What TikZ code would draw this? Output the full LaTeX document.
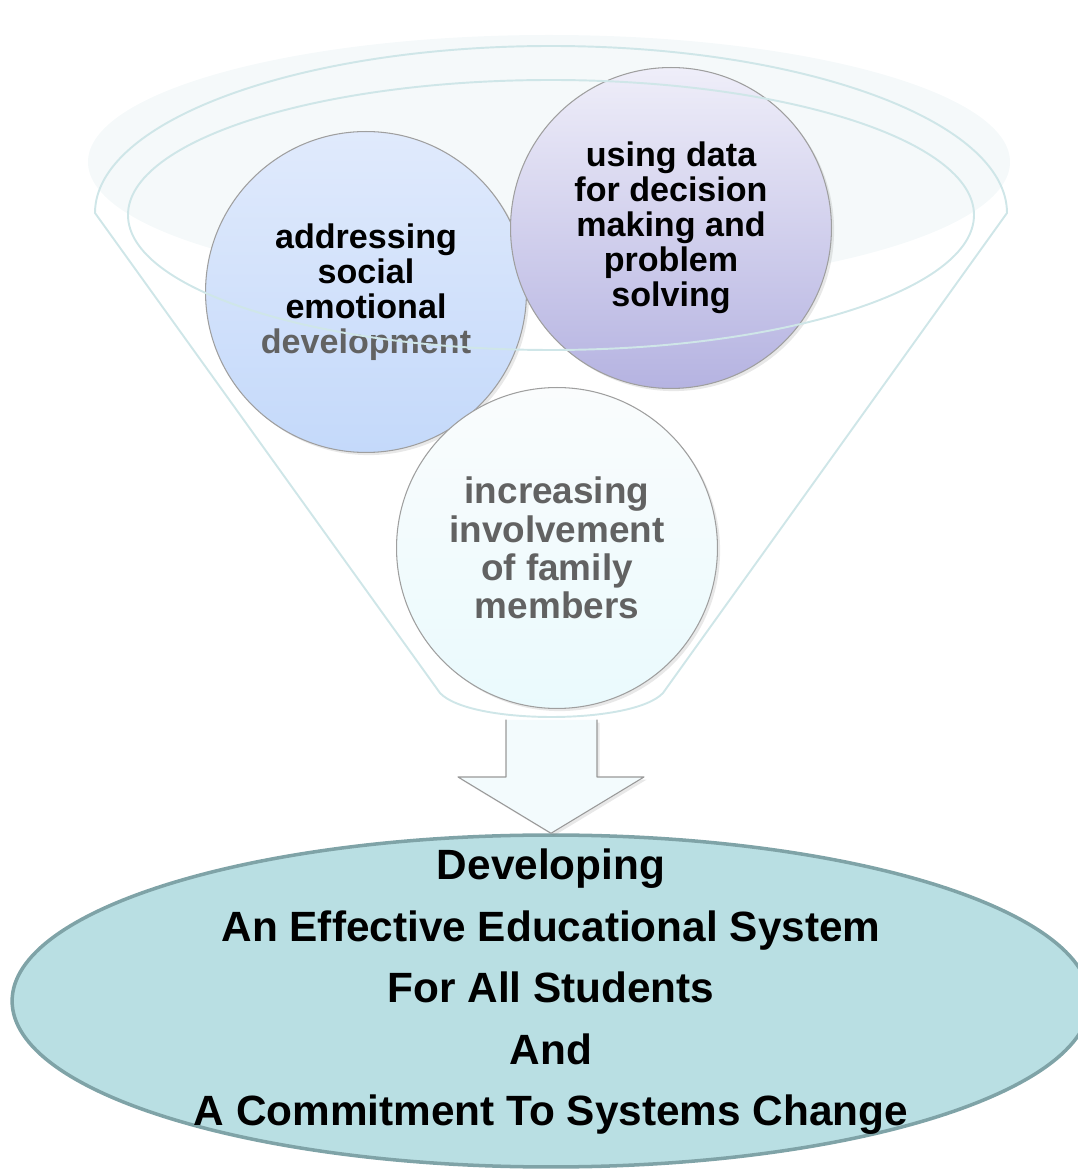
\documentclass[tikz,border=0pt]{standalone}
\usepackage{fontspec}
\setmainfont{Liberation Sans}
\usetikzlibrary{shapes.geometric,shadows,calc}
\definecolor{funnelline}{HTML}{CFE6E8}
\definecolor{funnelglow}{HTML}{F5F9FA}
\definecolor{softgray}{HTML}{626262}
\definecolor{goalfill}{HTML}{B9DFE3}
\definecolor{goalline}{HTML}{7FA3A7}
\definecolor{arrowfill}{HTML}{F3FBFD}
\definecolor{socialtop}{HTML}{E0EAFC}
\definecolor{socialbot}{HTML}{C4D9FA}
\definecolor{datatop}{HTML}{EFEEF9}
\definecolor{databot}{HTML}{B5B3E1}
\definecolor{familytop}{HTML}{FAFCFD}
\definecolor{familybot}{HTML}{EAFAFD}

\begin{document}
\begin{tikzpicture}[line cap=round,line join=round,x=0.02cm,y=0.02cm,
    funnel/.style={draw=funnelline,line width=1.1pt},
    bubble/.style={circle,draw=gray!75,line width=0.6pt,minimum size=6.42cm,inner sep=0pt,align=center,
      font=\bfseries\fontsize{19.4}{19.9}\selectfont,
      drop shadow={opacity=0.18,shadow xshift=1.5pt,shadow yshift=-1.5pt}},
    goalbox/.style={ellipse,draw=goalline,line width=2pt,fill=goalfill,minimum width=21.56cm,minimum height=6.64cm,inner sep=0pt}]
    \useasboundingbox (0,0) rectangle (1078,1171);
    % funnel
    \fill[funnelglow] (549,1009) ellipse[x radius=461,y radius=127];
    \draw[funnel] (95,958) arc[start angle=180,end angle=0,x radius=456,y radius=167]
        -- (663,478) .. controls (633,446) and (470,446) .. (440,478) -- cycle;
    % bubbles
    \node[bubble,top color=socialtop,bottom color=socialbot] (social) at (366,879)
        {addressing\\social\\emotional\\{\color{softgray}development}};
    \node[bubble,top color=datatop,bottom color=databot] (data) at (671,943)
        {using data\\for decision\\making and\\problem\\solving};
    \node[bubble,top color=familytop,bottom color=familybot,text=softgray,font=\bfseries\fontsize{21}{21.8}\selectfont] (family) at (557,623)
        {increasing\\involvement\\of family\\members};
    \draw[funnel] (551,956) ellipse[x radius=423,y radius=135];
    \coordinate (neck) at (551,451);
    % goal
    \node[goalbox] (goal) at (551,170) {};
    \node[align=center,font=\bfseries\fontsize{24.1}{35}\selectfont] (goaltext) at (551,179)
        {Developing\\An Effective Educational System\\For All Students\\And\\A Commitment To Systems Change};
    % arrow
    \fill[arrowfill,drop shadow={opacity=0.18,shadow xshift=1.5pt,shadow yshift=-1.5pt}] ($(neck)+(-45,0)$) -- ($(neck)+(-45,-57)$) -- ($(neck)+(-93,-57)$) -- (goal.north)
        -- ($(neck)+(93,-57)$) -- ($(neck)+(46,-57)$) -- ($(neck)+(46,0)$) -- cycle;
    \draw[gray!80,line width=0.6pt] ($(neck)+(-45,0)$) -- ($(neck)+(-45,-57)$) -- ($(neck)+(-93,-57)$) -- (goal.north)
        -- ($(neck)+(93,-57)$) -- ($(neck)+(46,-57)$) -- ($(neck)+(46,0)$);
\end{tikzpicture}
\end{document}
